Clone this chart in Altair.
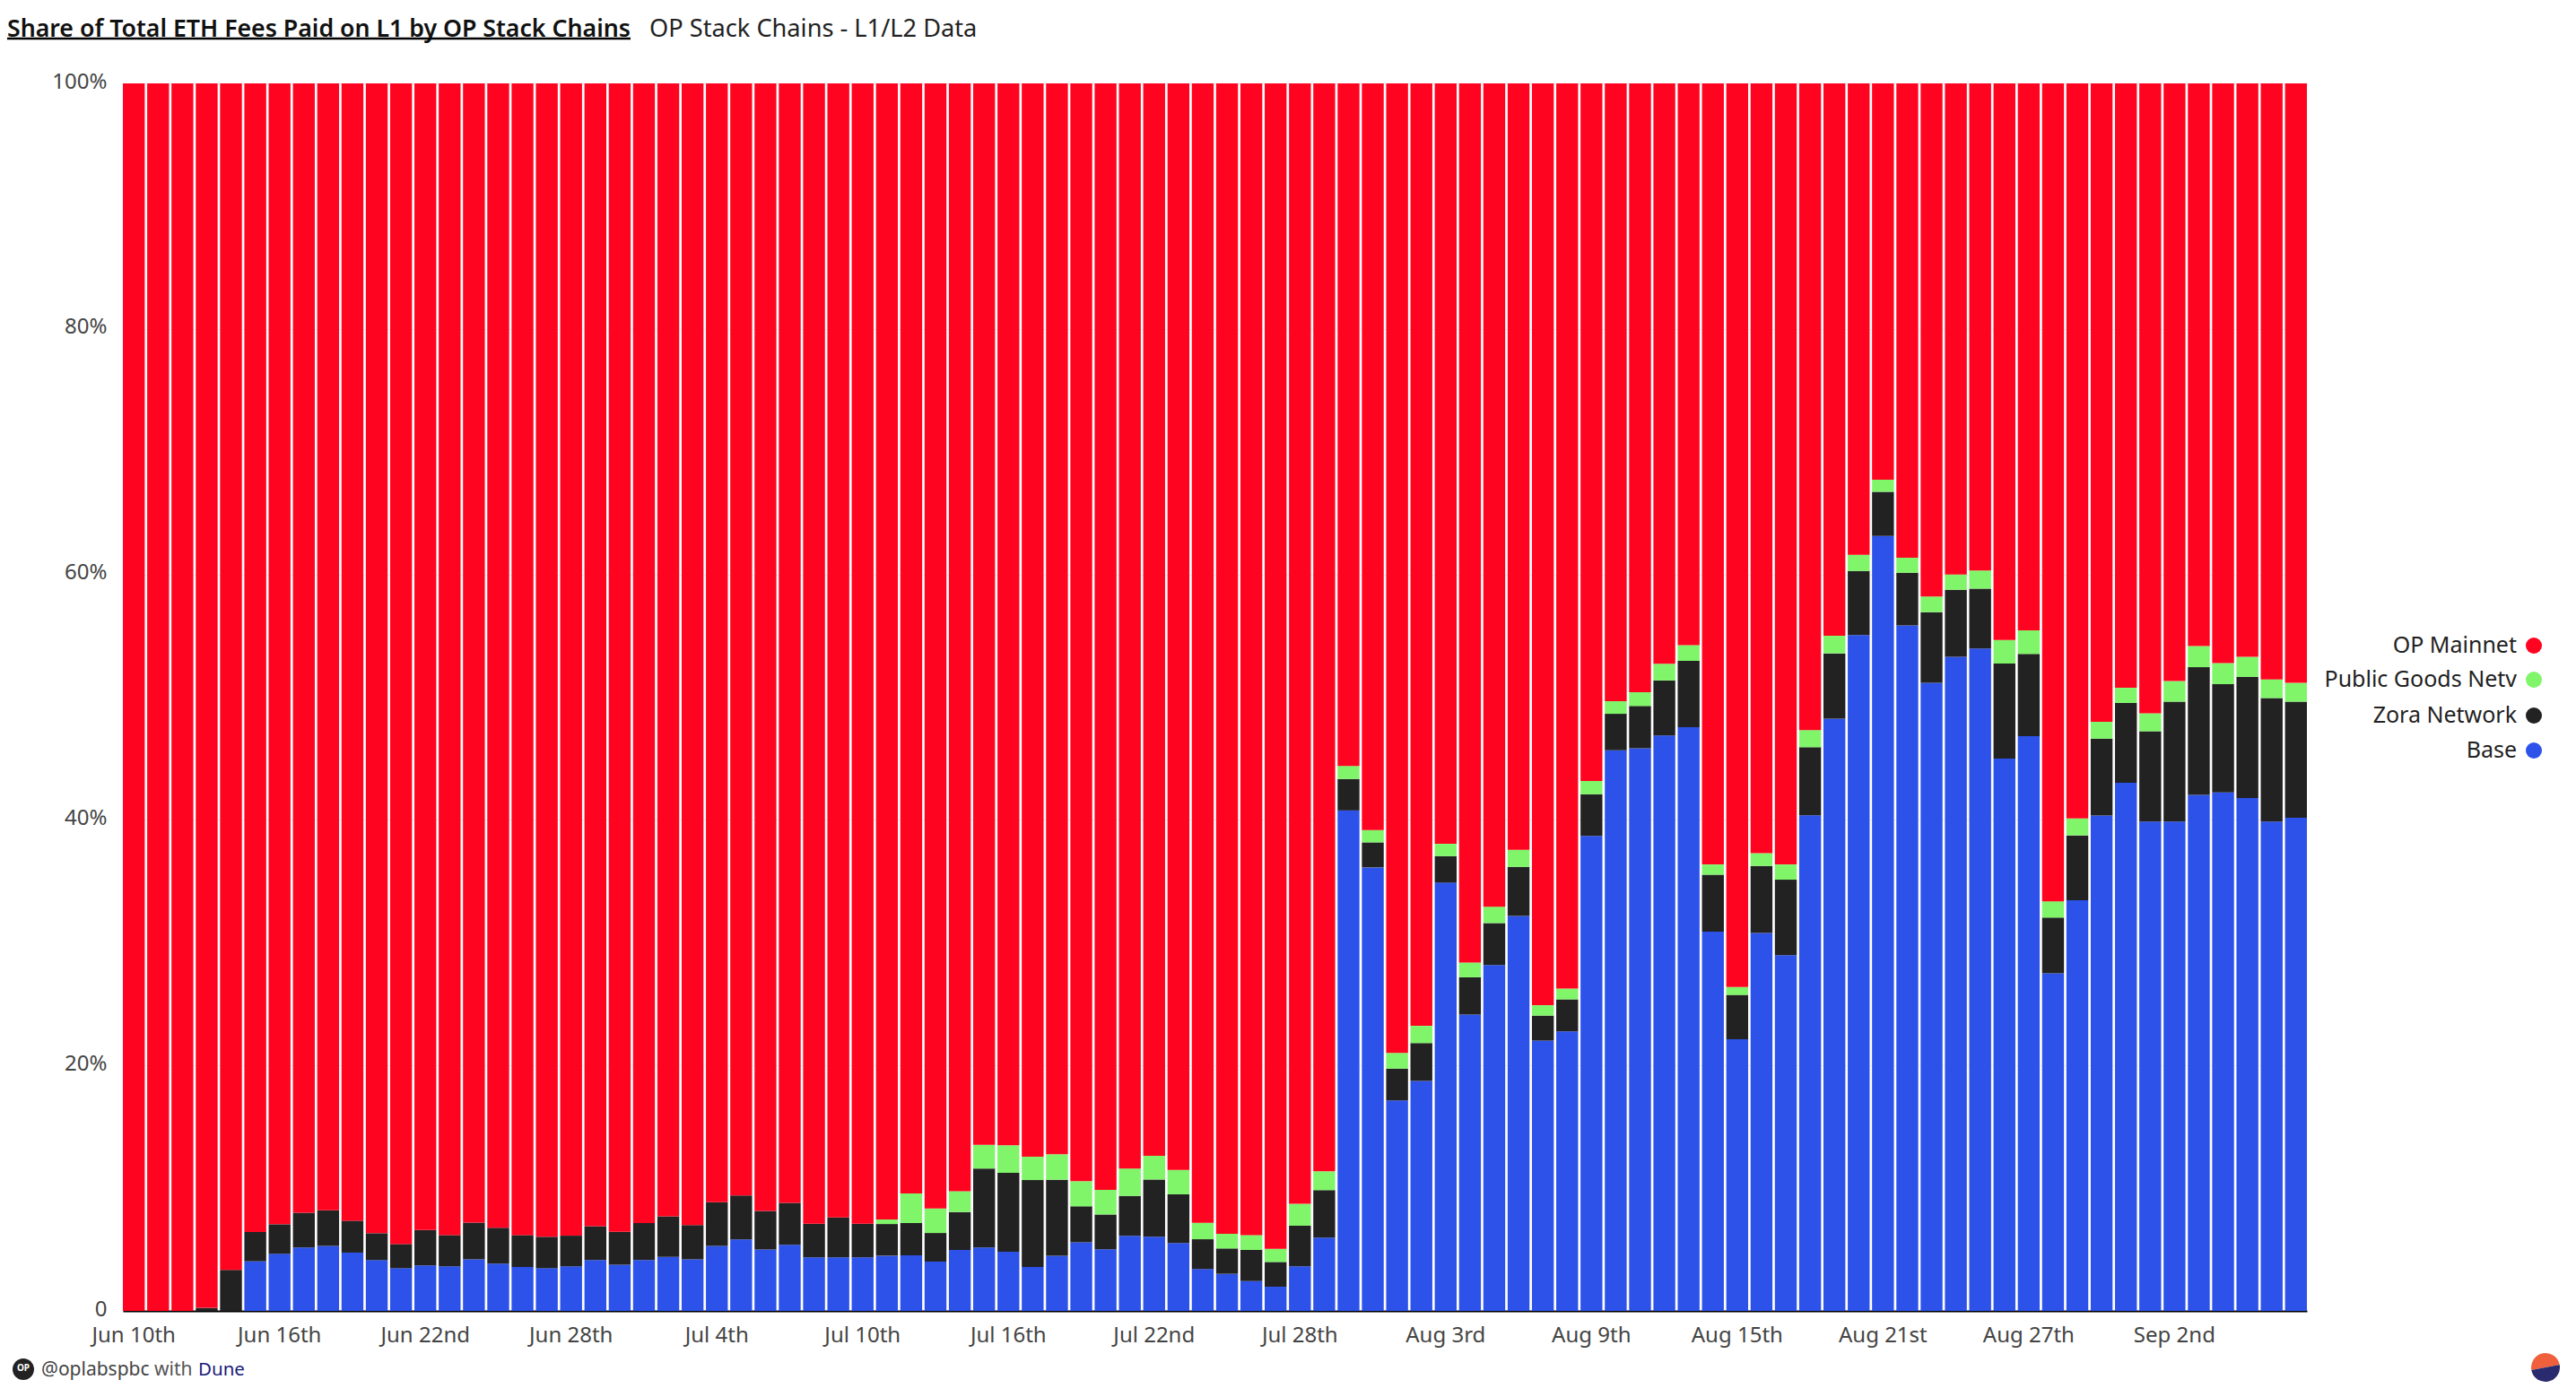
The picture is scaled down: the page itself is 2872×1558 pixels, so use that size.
import altair as alt
import pandas as pd

FONT = "Noto Sans"

base = [0,0,0,0,0,4.04,4.65,5.16,5.3,4.75,4.14,3.48,3.7,3.63,4.2,3.85,3.58,3.48,3.63,4.14,
        3.77,4.14,4.4,4.2,5.3,5.82,5.0,5.38,4.36,4.36,4.36,4.5,4.53,4.02,4.97,5.16,4.82,3.58,4.5,5.58,
        5.02,6.11,6.04,5.53,3.41,3.02,2.43,1.97,3.63,5.97,40.77,36.13,17.15,18.74,34.89,24.14,28.18,32.17,22.02,22.78,
        38.69,45.68,45.84,46.88,47.56,30.9,22.14,30.78,28.98,40.37,48.25,55.05,63.13,55.84,51.16,53.28,53.97,45.0,46.82,27.5,
        33.46,40.36,43.03,39.87,39.87,42.04,42.24,41.79,39.87,40.17]
zora = [0,0,0,0.25,3.35,2.39,2.41,2.84,2.9,2.6,2.19,1.97,2.9,2.55,3.0,2.92,2.6,2.56,2.5,2.76,
        2.68,3.02,3.3,2.8,3.56,3.58,3.15,3.42,2.74,3.26,2.74,2.58,2.63,2.33,3.09,6.44,6.43,7.08,6.19,2.94,
        2.84,3.26,4.67,3.97,2.43,2.07,2.54,2.02,3.31,3.87,2.56,2.04,2.59,3.08,2.16,3.04,3.42,4.0,2.04,2.6,
        3.4,2.96,3.44,4.48,5.4,4.63,3.6,5.47,6.15,5.55,5.32,5.23,3.6,4.29,5.77,5.47,4.87,7.74,6.7,4.54,
        5.28,6.26,6.5,7.35,9.76,10.4,8.82,9.86,10.06,9.46]
pgn = [0,0,0,0,0,0,0,0,0,0,0,0,0,0,0,0,0,0,0,0,
       0,0,0,0,0,0,0,0,0,0,0,0.37,2.41,2.0,1.7,1.94,2.24,1.9,2.07,2.05,
       2.0,2.23,1.93,1.99,1.34,1.19,1.21,1.07,1.78,1.53,1.07,1.0,1.28,1.4,1.0,1.2,1.33,1.4,0.84,0.88,
       1.08,1.04,1.12,1.36,1.28,0.84,0.64,1.04,1.24,1.4,1.43,1.32,0.99,1.23,1.27,1.23,1.48,1.92,1.93,1.33,
       1.38,1.38,1.23,1.47,1.68,1.72,1.72,1.63,1.52,1.53]
op = [100,100,100,99.75,96.65,93.57,92.94,92.0,91.8,92.65,93.67,94.55,93.4,93.82,92.8,93.23,93.82,93.96,93.87,93.1,
      93.55,92.84,92.3,93.0,91.14,90.6,91.85,91.2,92.9,92.38,92.9,92.55,90.43,91.65,90.24,86.46,86.51,87.44,87.24,89.43,
      90.14,88.4,87.36,88.51,92.82,93.72,93.82,94.94,91.28,88.63,55.6,60.83,78.98,76.78,61.95,71.62,67.07,62.43,75.1,73.74,
      56.83,50.32,49.6,47.28,45.76,63.63,73.62,62.71,63.63,52.68,45.0,38.4,32.28,38.64,41.8,40.02,39.68,45.34,44.55,66.63,
      59.88,52.0,49.24,51.31,48.69,45.84,47.22,46.72,48.55,48.84]

series_names = ["Base", "Zora Network", "Public Goods Network", "OP Mainnet"]
series_vals = [base, zora, pgn, op]
series_colors = ["#2c52ea", "#222222", "#80f56a", "#ff0420"]
legend_labels = ["OP Mainnet", "Public Goods Netv", "Zora Network", "Base"]
legend_colors = ["#ff0420", "#80f56a", "#222222", "#2c52ea"]
x_ticks = ["Jun 10th", "Jun 16th", "Jun 22nd", "Jun 28th", "Jul 4th", "Jul 10th", "Jul 16th", "Jul 22nd",
           "Jul 28th", "Aug 3rd", "Aug 9th", "Aug 15th", "Aug 21st", "Aug 27th", "Sep 2nd"]


def day_label(d):
    n = d.day
    suf = "th" if 11 <= n <= 13 else {1: "st", 2: "nd", 3: "rd"}.get(n % 10, "th")
    return f"{d.strftime('%b')} {n}{suf}"


days = [day_label(d) for d in pd.date_range("2023-06-10", periods=90)]
rows = []
for rank, (name, vals) in enumerate(zip(series_names, series_vals)):
    for d, v in zip(days, vals):
        rows.append({"day": d, "chain": name, "share": v, "rank": rank})
df = pd.DataFrame(rows)

bars = alt.Chart(df).mark_bar(width={"band": 1}).encode(
    x=alt.X("day:N", sort=days, title=None,
            scale=alt.Scale(paddingInner=0.1, paddingOuter=0),
            axis=alt.Axis(values=x_ticks, labelAngle=0, ticks=False, domain=True, domainColor="#000000",
                          domainWidth=2, labelFont=FONT, labelFontSize=24, labelColor="#444444",
                          labelPadding=15, grid=False, labelOverlap=False)),
    y=alt.Y("share:Q", stack="zero", title=None,
            scale=alt.Scale(domain=[0, 100], nice=False),
            axis=alt.Axis(values=[0, 20, 40, 60, 80, 100],
                          labelExpr="datum.value === 0 ? '0' : datum.value + '%'",
                          ticks=False, domain=False, labelFont=FONT, labelFontSize=24,
                          labelColor="#444444", labelPadding=18, labelOffset=-2,
                          grid=True, gridColor="#f0f0f0")),
    color=alt.Color("chain:N", scale=alt.Scale(domain=series_names, range=series_colors), legend=None),
    order=alt.Order("rank:Q"),
)

one = alt.Data(values=[{"a": 1}])


def text(s, x, y, size=24, color="#000000", align="left", weight="normal"):
    return alt.Chart(one).mark_text(font=FONT, fontSize=size, color=color, align=align,
                                    baseline="middle", fontWeight=weight).encode(
        x=alt.value(x), y=alt.value(y), text=alt.value(s))


layers = [bars]
layers.append(text("Share of Total ETH Fees Paid on L1 by OP Stack Chains", -129, -60, 26.7, "#111111", weight=600))
layers.append(alt.Chart(one).mark_rule(color="#000000", strokeWidth=2.5).encode(
    x=alt.value(-129), x2=alt.value(566), y=alt.value(-50)))
layers.append(text("OP Stack Chains - L1/L2 Data", 587, -60, 27.2, "#222222"))

legend_y = [627, 665, 705, 744]
for lab, col, ly in zip(legend_labels, legend_colors, legend_y):
    layers.append(text(lab, 2669, ly, 25, "#222222", align="right"))
    layers.append(alt.Chart(one).mark_point(filled=True, opacity=1, color=col, size=324).encode(
        x=alt.value(2688), y=alt.value(ly)))

# footer
layers.append(alt.Chart(one).mark_point(filled=True, opacity=1, color="#222222", size=576).encode(
    x=alt.value(-111), y=alt.value(1434)))
layers.append(text("OP", -111, 1433, 10, "#ffffff", align="center", weight="bold"))
layers.append(text("@oplabspbc", -91, 1435, 21, "#444444"))
layers.append(text("with", 35, 1435, 21, "#555555"))
layers.append(text("Dune", 84, 1435, 20.5, "#1a1a7a"))

# bottom-right logo
layers.append(alt.Chart(one).mark_arc(radius=16, theta=4.53, theta2=7.67, color="#f0603c").encode(
    x=alt.value(2701), y=alt.value(1432)))
layers.append(alt.Chart(one).mark_arc(radius=16, theta=1.39, theta2=4.53, color="#2a2a6e").encode(
    x=alt.value(2701), y=alt.value(1432)))

chart = alt.layer(*layers).properties(
    width=2435, height=1369,
    padding={"left": 129, "top": 85, "right": 290, "bottom": 80},
    autosize=alt.AutoSizeParams(type="none", contains="content"),
    background="#ffffff",
).configure_view(stroke=None)

chart.save("out.html", embed_options={"renderer": "svg", "actions": False})
